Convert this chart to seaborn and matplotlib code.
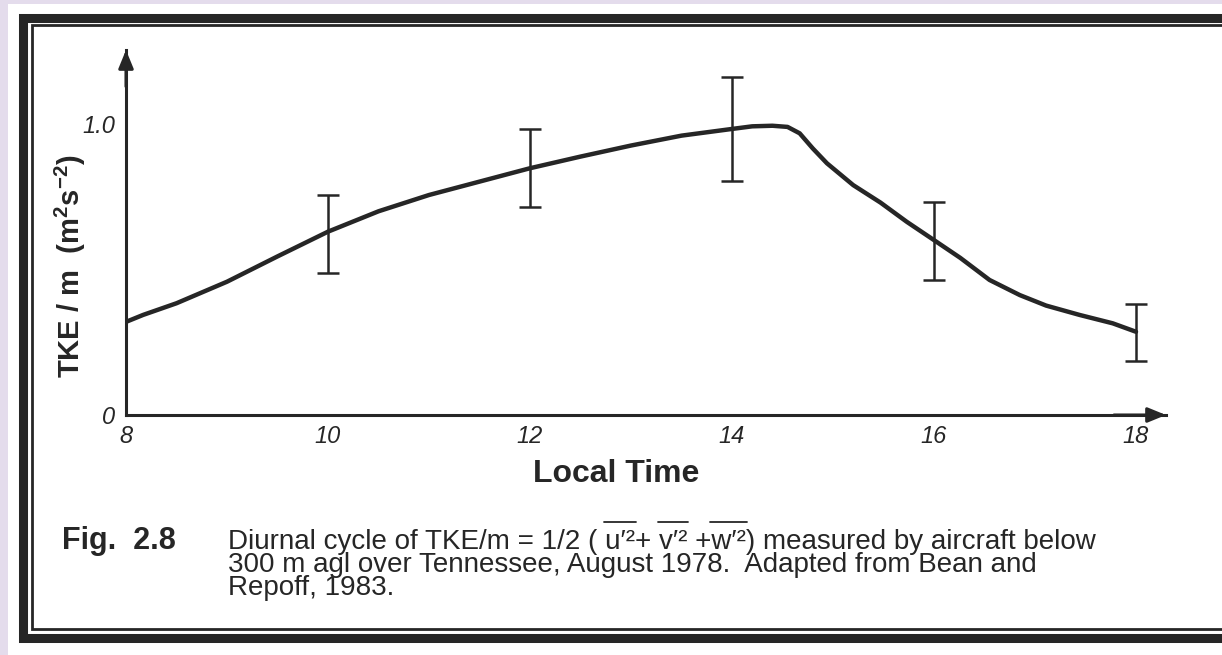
import numpy as np
import pandas as pd
import matplotlib
matplotlib.use("Agg")
import matplotlib.pyplot as plt
from matplotlib.lines import Line2D
from matplotlib.patches import Rectangle
import seaborn as sns

# ---------------------
# Data
# ---------------------
curve_hours = [8.0, 8.17, 8.5, 9.0, 9.5, 10.0, 10.5, 11.0, 11.5, 12.0, 12.5, 13.0,
               13.5, 14.0, 14.2, 14.4, 14.55, 14.67, 14.8, 14.94, 15.2, 15.47,
               15.73, 16.0, 16.26, 16.55, 16.85, 17.11, 17.44, 17.77, 18.0]
curve_tke = [0.320, 0.344, 0.384, 0.458, 0.545, 0.630, 0.700, 0.756, 0.802, 0.848,
             0.888, 0.926, 0.960, 0.983, 0.992, 0.994, 0.990, 0.968, 0.916, 0.865,
             0.790, 0.730, 0.664, 0.601, 0.540, 0.464, 0.412, 0.376, 0.344, 0.315,
             0.286]

err_hours = [10, 12, 14, 16, 18]
err_mid = [0.630, 0.848, 0.983, 0.601, 0.286]
err_low = [0.487, 0.714, 0.805, 0.464, 0.186]
err_high = [0.756, 0.982, 1.160, 0.733, 0.381]

x_major = [8, 10, 12, 14, 16, 18]
x_minor = [9, 11, 13, 15, 17]
y_ticks = [i / 6 for i in range(8)]
y_labels = ["0", "", "", "", "", "", "1.0", ""]

caption_lines = [
    "Diurnal cycle of TKE/m = 1/2 ( u\u2032\u00b2+ v\u2032\u00b2 +w\u2032\u00b2) measured by aircraft below",
    "300 m agl over Tennessee, August 1978.  Adapted from Bean and",
    "Repoff, 1983.",
]
overlined = ["u\u2032\u00b2", "v\u2032\u00b2", "w\u2032\u00b2"]

INK = "#262626"
W, H = 1222, 655
CAP_SIZE = 20


def fx(px):
    return px / W


def fy(py):
    return 1 - py / H


sns.set_style("white")
plt.rcParams["font.family"] = ["Liberation Sans", "DejaVu Sans"]
plt.rcParams["mathtext.fontset"] = "custom"
plt.rcParams["mathtext.rm"] = "Liberation Sans"
plt.rcParams["mathtext.bf"] = "Liberation Sans:bold"

fig = plt.figure(figsize=(W / 100, H / 100), dpi=100, facecolor="#e4dcec")

# white scanned page
fig.add_artist(Rectangle((fx(8), 0), 1, fy(4), transform=fig.transFigure,
                         facecolor="white", edgecolor="none", zorder=0))

# double frame (right side is cut off in the scan)
for lw, left, top, bottom in [(6.5, 22.5, 17.5, 638), (2.0, 31.5, 25.0, 628.5)]:
    fig.add_artist(Line2D([fx(W + 5), fx(left), fx(left), fx(W + 5)],
                          [fy(top), fy(top), fy(bottom), fy(bottom)],
                          transform=fig.transFigure, lw=lw, color=INK,
                          solid_joinstyle="miter"))

ax = fig.add_axes([fx(126), fy(415), (1166 - 126) / W, (415 - 50) / H])
ax.set_facecolor("none")

df = pd.DataFrame({"hour": curve_hours, "tke": curve_tke})
sns.lineplot(data=df, x="hour", y="tke", ax=ax, color=INK, lw=3.2,
             sort=False, estimator=None)

mid = np.array(err_mid)
yerr = [mid - np.array(err_low), np.array(err_high) - mid]
ax.errorbar(err_hours, err_mid, yerr=yerr, fmt="none", ecolor=INK,
            elinewidth=1.8, capsize=8, capthick=1.8)

ax.set_xlim(8, 8 + 1040 / 101)
ax.set_ylim(0, 365 / 291)

for side in ["top", "right"]:
    ax.spines[side].set_visible(False)
for side in ["left", "bottom"]:
    ax.spines[side].set_color(INK)
    ax.spines[side].set_linewidth(2.2)

# arrow heads on the axes
arrow = dict(arrowstyle="-|>,head_length=1.1,head_width=0.45", color=INK,
             lw=2.2, shrinkA=0, shrinkB=0)
ax.annotate("", xy=(0, 1), xytext=(0, 0.9), xycoords="axes fraction",
            arrowprops=arrow, annotation_clip=False)
ax.annotate("", xy=(1, 0), xytext=(0.95, 0), xycoords="axes fraction",
            arrowprops=arrow, annotation_clip=False)

ax.set_xticks(x_major)
ax.set_xticklabels([str(h) for h in x_major], fontstyle="italic", fontsize=17)
ax.set_xticks(x_minor, minor=True)
ax.set_yticks(y_ticks)
ax.set_yticklabels(y_labels, fontstyle="italic", fontsize=17)
ax.tick_params(axis="x", which="both", direction="in", length=9, width=1.8,
               color=INK, pad=7, labelcolor=INK)
ax.tick_params(axis="y", direction="in", length=12, width=1.8, color=INK,
               pad=8, labelcolor=INK)

ax.set_xlabel("Local Time", fontsize=23, fontweight="bold", color=INK)
ax.xaxis.set_label_coords((616 - 126) / 1040, -44 / 365)
ax.set_ylabel("TKE / m  (m$^\\mathbf{2}$s$^\\mathbf{-2}$)", fontsize=21,
              fontweight="bold", color=INK)
ax.yaxis.set_label_coords((88 - 126) / 1040, (415 - 266) / 365)

# caption: one three-line text anchored on the baseline of its last line
fig.text(fx(62), fy(549), "Fig.  2.8", fontsize=22, fontweight="bold",
         color=INK, va="baseline", ha="left")
fig.text(fx(228), fy(595), "\n".join(caption_lines), fontsize=CAP_SIZE,
         color=INK, va="baseline", ha="left", linespacing=0.86)

# overlines above u'2, v'2, w'2 (measured from the rendered first line)
fig.canvas.draw()
renderer = fig.canvas.get_renderer()


def text_width(s):
    t = fig.text(0, 0, s, fontsize=CAP_SIZE)
    w = t.get_window_extent(renderer).width
    t.remove()
    return w


line1 = caption_lines[0]
for grp in overlined:
    i = line1.index(grp)
    x0 = 228 + text_width(line1[:i + 1]) - text_width(line1[i])
    x1 = 228 + text_width(line1[:i + len(grp)])
    fig.add_artist(Line2D([fx(x0 - 1), fx(x1 + 1)], [fy(522), fy(522)],
                          transform=fig.transFigure, lw=1.3, color=INK))

fig.savefig("out.png", dpi=100)
